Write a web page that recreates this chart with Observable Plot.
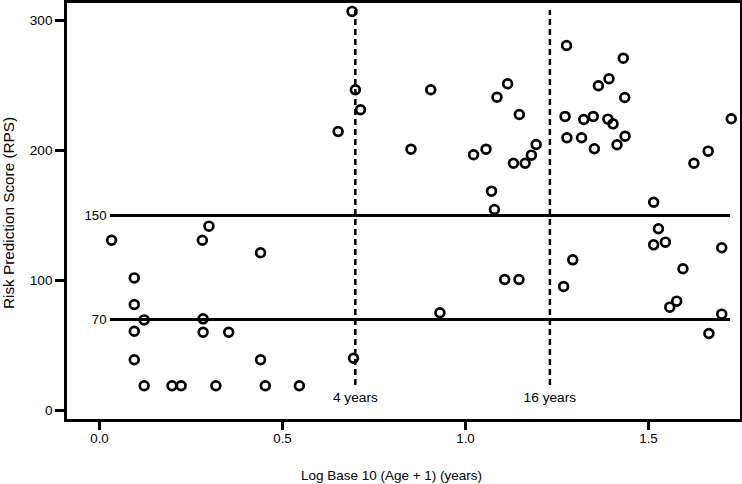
<!DOCTYPE html>
<html>
<head>
<meta charset="utf-8">
<script src="https://cdn.jsdelivr.net/npm/d3@7"></script>
<script src="https://cdn.jsdelivr.net/npm/@observablehq/plot@0.6"></script>
<style>
  html, body { margin: 0; padding: 0; background: #fff; }
  #chart svg { display: block; }
</style>
</head>
<body>
<div id="chart"></div>
<script>
// Log10(age+1) values
const logAge = [
  0.033, 0.095, 0.095, 0.095, 0.095, 0.122, 0.122, 0.198, 0.223, 0.281, 0.299, 0.283, 0.283, 0.353, 0.318,
  0.44, 0.44, 0.453, 0.546, 0.694, 0.93, 0.690, 0.699, 0.713, 0.652, 0.851, 0.905, 1.022, 1.056, 1.086,
  1.071, 1.079, 1.115, 1.147, 1.131, 1.163, 1.18, 1.193, 1.107, 1.146,
  1.276, 1.272, 1.277, 1.317, 1.323, 1.349, 1.352, 1.363, 1.392, 1.389, 1.403, 1.431, 1.435, 1.414, 1.436,
  1.726, 1.663, 1.624, 1.514, 1.527, 1.514, 1.546, 1.700, 1.594, 1.577, 1.558, 1.700, 1.665, 1.293, 1.268
];
// Risk Prediction Score values
const rps = [
  131, 102, 81.5, 61, 39, 69.7, 19, 19, 19, 131, 141.8, 70.5, 60.2, 60.2, 19,
  121.3, 39, 19, 19, 40.2, 75.2, 307, 246.7, 231.3, 214.6, 201, 246.7, 196.7, 201, 241,
  168.7, 154.6, 251.3, 227.7, 190.2, 190.2, 196.4, 204.6, 100.8, 100.8,
  280.8, 226.2, 209.8, 209.8, 223.8, 226.2, 201.3, 249.8, 255.2, 224.1, 220.5, 271, 240.8, 204.4, 211,
  224.4, 199.5, 190.2, 160.2, 139.8, 127.4, 129.5, 125.2, 109, 84.1, 79.5, 74.1, 59.2, 115.9, 95.4
];
const xTicks = [0, 0.5, 1.0, 1.5];
const yTicks = [0, 100, 200, 300];
const thresholds = [150, 70];
const ageMarks = [4, 16];
const ageLabels = ["4 years", "16 years"];
const xLabel = "Log Base 10 (Age + 1) (years)";
const yLabel = "Risk Prediction Score (RPS)";

const data = logAge.map((x, i) => ({x, y: rps[i]}));
const ageData = ageMarks.map((a, i) => ({x: Math.log10(a + 1), label: ageLabels[i]}));

const chart = Plot.plot({
  width: 742,
  height: 484,
  marginLeft: 65,
  marginRight: 1,
  marginTop: 1,
  marginBottom: 64,
  style: {fontFamily: "'Liberation Sans', Arial, sans-serif", fontSize: "13px", color: "black", background: "white"},
  x: {domain: [-0.0929, 1.754]},
  y: {domain: [-7.69, 314.6]},
  marks: [
    Plot.ruleX(ageData, {x: "x", y1: 19.2, y2: 307.7, stroke: "black", strokeWidth: 2.5, strokeDasharray: "6,4"}),
    Plot.text(ageData, {x: "x", y: 10, text: "label", fontSize: 13.7, fill: "black"}),
    Plot.ruleY(thresholds, {y: d => d, x1: 0.03, x2: 1.724, stroke: "black", strokeWidth: 3}),
    Plot.text(thresholds, {x: 0.03, y: d => d, text: d => String(d), textAnchor: "end", dx: -4, fontSize: 13.2, fill: "black"}),
    Plot.dot(data, {x: "x", y: "y", r: 4.4, stroke: "black", strokeWidth: 2.7, fill: "none"}),
    Plot.frame({stroke: "black", strokeWidth: 3}),
    Plot.axisX({ticks: xTicks, tickFormat: d3.format(".1f"), tickSize: 10, tickPadding: 3, strokeWidth: 3, fontSize: 13.3, label: null}),
    Plot.axisY({ticks: yTicks, tickSize: 10, tickPadding: 3, strokeWidth: 3, fontSize: 13.6, label: null}),
    Plot.text([xLabel], {frameAnchor: "bottom", lineAnchor: "middle", textAnchor: "middle", dy: 55, dx: -12, text: d => d, fontSize: 13.5, fill: "black"}),
    Plot.text([yLabel], {frameAnchor: "left", lineAnchor: "middle", textAnchor: "middle", dx: -56.5, dy: 2, rotate: -90, text: d => d, fontSize: 15.3, fill: "black"})
  ]
});
document.getElementById("chart").append(chart);
</script>
</body>
</html>
